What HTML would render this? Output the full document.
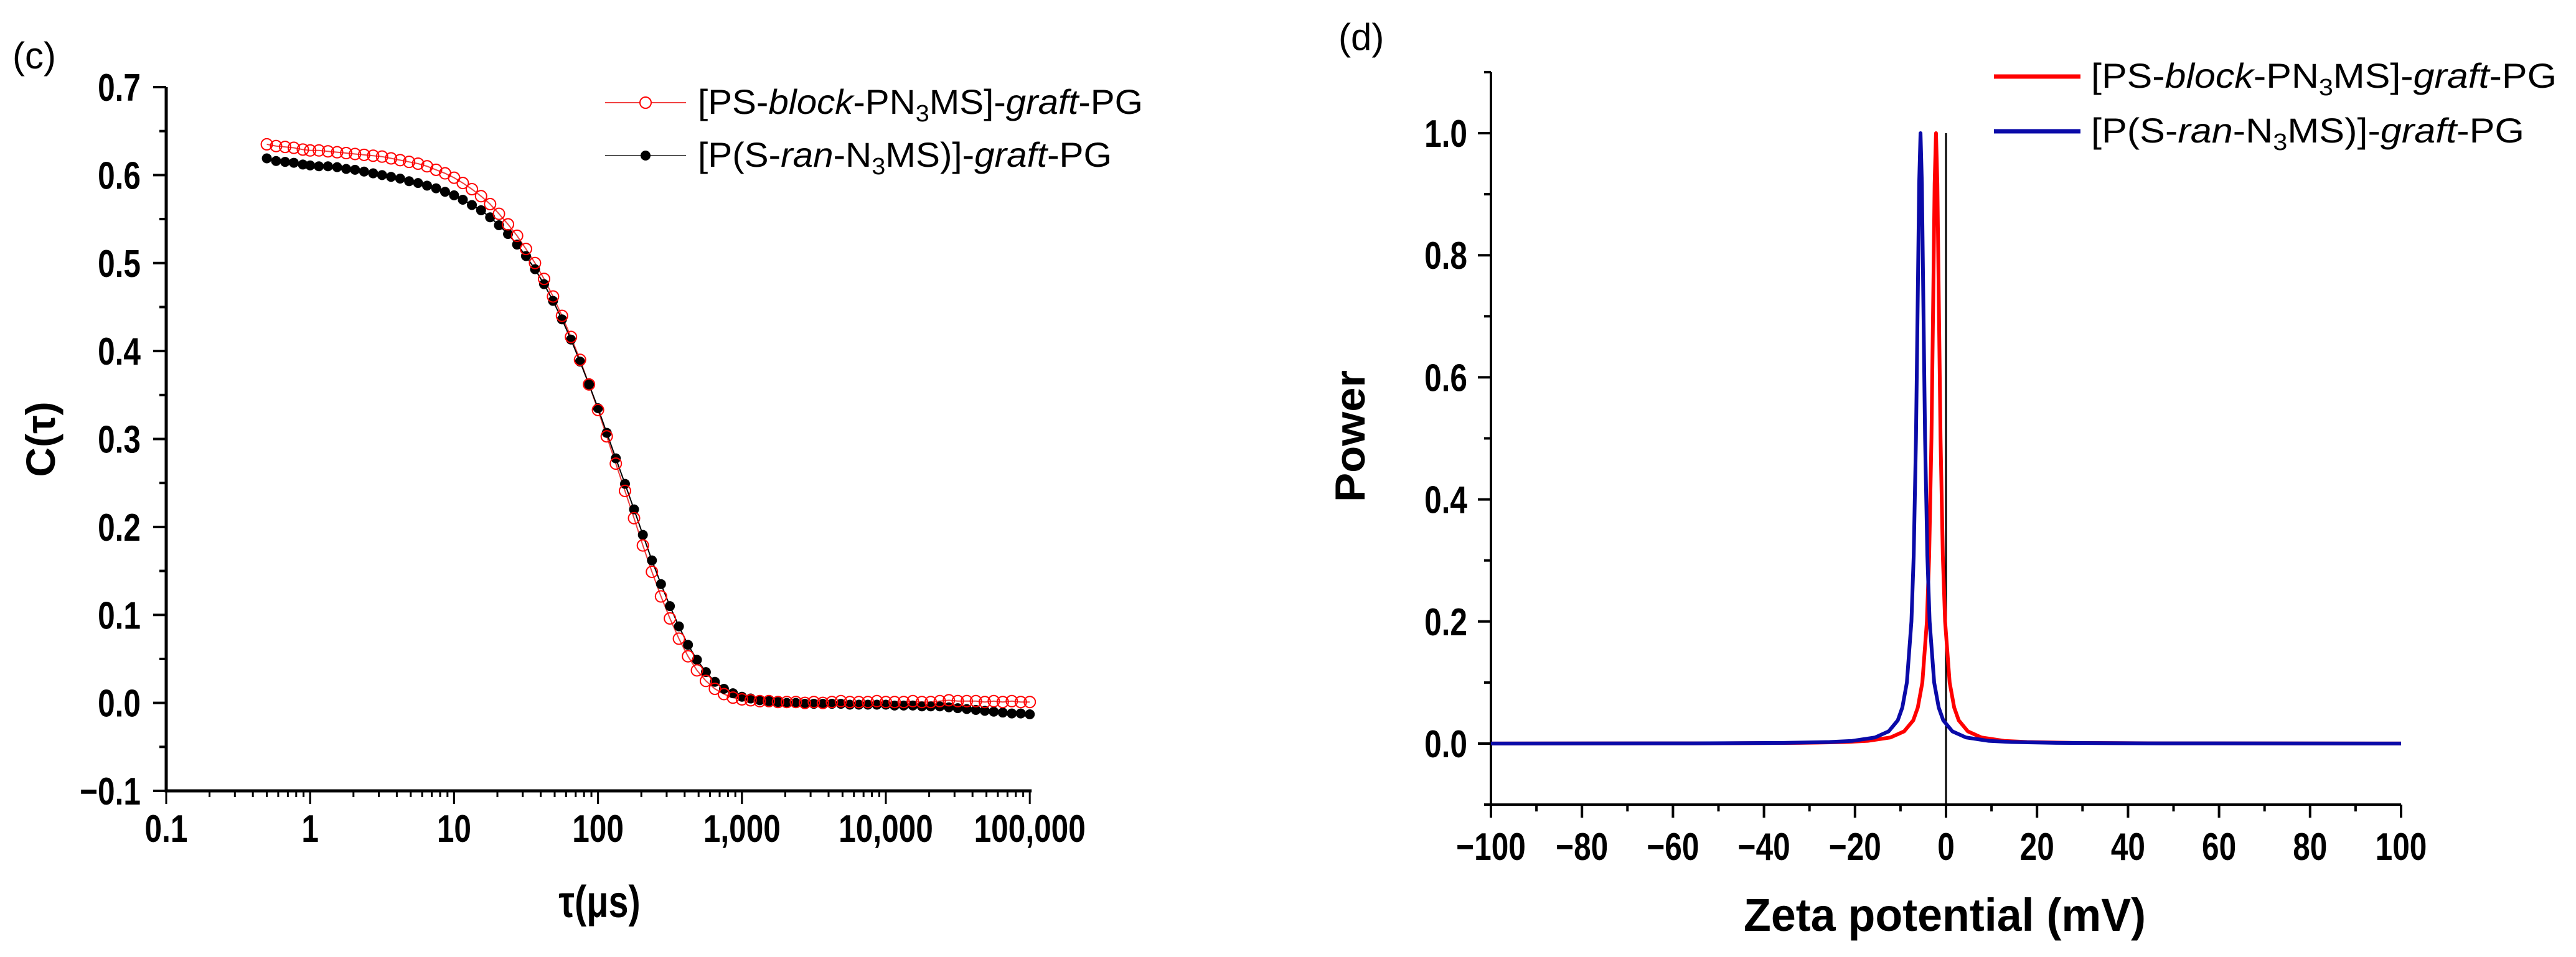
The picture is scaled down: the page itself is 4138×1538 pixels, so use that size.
<!DOCTYPE html>
<html><head><meta charset="utf-8"><style>
html,body{margin:0;padding:0;background:#fff;}
svg{display:block;font-family:"Liberation Sans",sans-serif;}
</style></head><body>
<svg id="fig" width="4138" height="1538" viewBox="0 0 4138 1538" xmlns="http://www.w3.org/2000/svg">
<g id="chartC"></g>
<g id="chartD"></g>
</svg>
<script>
// ---- Chart (c) data ----
const tauValues=[0.5,0.58,0.67,0.77,0.89,1,1.15,1.33,1.54,1.78,2.05,2.37,2.74,3.16,3.65,4.22,4.87,5.62,6.49,7.5,8.66,10,11.5,13.3,15.4,17.8,20.5,23.7,27.4,31.6,36.5,42.2,48.7,56.2,64.9,75,86.6,100,115,133,154,178,205,237,274,316,365,422,487,562,649,750,866,1000,1150,1330,1540,1780,2050,2370,2740,3160,3650,4220,4870,5620,6490,7500,8660,10000,11500,13300,15400,17800,20500,23700,27400,31600,36500,42200,48700,56200,64900,75000,86600,100000];
const blockCorr=[0.635,0.633,0.632,0.631,0.629,0.628,0.628,0.627,0.626,0.625,0.624,0.623,0.622,0.621,0.619,0.617,0.615,0.613,0.610,0.606,0.602,0.597,0.591,0.584,0.576,0.567,0.556,0.544,0.531,0.516,0.500,0.482,0.462,0.440,0.416,0.390,0.362,0.333,0.303,0.272,0.241,0.210,0.179,0.149,0.121,0.096,0.073,0.053,0.037,0.025,0.016,0.010,0.006,0.004,0.003,0.002,0.002,0.001,0.001,0.001,0.000,0.001,0.000,0.001,0.002,0.001,0.001,0.001,0.002,0.001,0.001,0.001,0.002,0.001,0.001,0.002,0.003,0.002,0.002,0.002,0.001,0.002,0.001,0.002,0.001,0.001];
const ranCorr=[0.619,0.616,0.615,0.614,0.612,0.611,0.610,0.610,0.609,0.607,0.606,0.604,0.602,0.600,0.598,0.596,0.593,0.591,0.588,0.585,0.581,0.577,0.572,0.566,0.560,0.552,0.543,0.533,0.521,0.508,0.493,0.476,0.457,0.436,0.413,0.388,0.362,0.335,0.307,0.278,0.249,0.220,0.191,0.162,0.135,0.110,0.087,0.066,0.049,0.035,0.024,0.016,0.011,0.007,0.005,0.003,0.002,0.001,0.000,0.000,-0.001,-0.001,-0.001,-0.001,-0.001,-0.002,-0.002,-0.002,-0.002,-0.002,-0.003,-0.003,-0.003,-0.004,-0.004,-0.004,-0.005,-0.006,-0.007,-0.008,-0.009,-0.010,-0.011,-0.012,-0.012,-0.013];
const cYTicks=[-0.1,0.0,0.1,0.2,0.3,0.4,0.5,0.6,0.7];
const cXTicks=[0.1,1,10,100,1000,10000,100000];
const cXTickLabels=["0.1","1","10","100","1,000","10,000","100,000"];
// ---- Chart (d) data ----
const blockZeta=[-100,-52.2,-32.2,-22.2,-17.2,-12.2,-9.2,-7.2,-6.2,-5.2,-4.2,-3.7,-3.2,-2.8,-2.5,-2.2,-1.9,-1.6,-1.2,-0.7,-0.2,0.8,1.8,2.8,4.8,7.8,12.8,17.8,27.8,47.8,100];
const ranZeta=[-100,-55.6,-35.6,-25.6,-20.6,-15.6,-12.6,-10.6,-9.6,-8.6,-7.6,-7.1,-6.6,-6.2,-5.9,-5.6,-5.3,-5.0,-4.6,-4.1,-3.6,-2.6,-1.6,-0.6,1.4,4.4,9.4,14.4,24.4,44.4,100];
const blockPower=[0.0001,0.0004,0.0011,0.0025,0.0044,0.01,0.02,0.038,0.059,0.1,0.2,0.308,0.5,0.735,0.917,1,0.917,0.735,0.5,0.308,0.2,0.1,0.059,0.038,0.02,0.01,0.0044,0.0025,0.0011,0.0004,0.0001];
const ranPower=[0.0001,0.0004,0.0011,0.0025,0.0044,0.01,0.02,0.038,0.059,0.1,0.2,0.308,0.5,0.735,0.917,1,0.917,0.735,0.5,0.308,0.2,0.1,0.059,0.038,0.02,0.01,0.0044,0.0025,0.0011,0.0004,0.0001];
const dXTicks=[-100,-80,-60,-40,-20,0,20,40,60,80,100];
const dXTickLabels=["\u2212100","\u221280","\u221260","\u221240","\u221220","0","20","40","60","80","100"];
const dYTicks=[0.0,0.2,0.4,0.6,0.8,1.0];

const NS="http://www.w3.org/2000/svg";
function mk(parent,tag,attrs,text){const e=document.createElementNS(NS,tag);for(const k in attrs)e.setAttribute(k,attrs[k]);if(text!==undefined)e.textContent=text;parent.appendChild(e);return e;}

// ===== Chart C =====
const gc=document.getElementById('chartC');
const cx0=267,cxDec=231.2,cyTop=140,cyPer=1413.75;
const cX=v=>cx0+(Math.log10(v)+1)*cxDec;
const cY=v=>cyTop+(0.7-v)*cyPer;
let ax=mk(gc,'path',{d:`M${cX(0.1)},${cY(0.7)} V${cY(-0.1)} H${cX(100000)+3}`,fill:'none',stroke:'#000','stroke-width':5});

for(let v=-0.1;v<=0.7001;v+=0.05){const maj=Math.abs(Math.round(v*10)-v*10)<0.01;
 const t=mk(gc,'line',{x1:cx0,x2:cx0-(maj?21:11),y1:cY(v),y2:cY(v),stroke:'#000','stroke-width':4});
 }
cYTicks.forEach(v=>{const t=mk(gc,'text',{transform:`translate(226,${cY(v)+22}) scale(0.8,1)`,'text-anchor':'end','font-size':62,'font-weight':'bold'},(v<0?'\u2212':'')+Math.abs(v).toFixed(1));
 });
for(let d=-1;d<5;d++){for(let m=1;m<=10;m++){const v=m*Math.pow(10,d);const maj=(m===1||m===10);
 const t=mk(gc,'line',{x1:cX(v),x2:cX(v),y1:cY(-0.1),y2:cY(-0.1)+(maj?21:10),stroke:'#000','stroke-width':3});
 }}
cXTicks.forEach((v,i)=>{const t=mk(gc,'text',{transform:`translate(${cX(v)},1353) scale(0.8,1)`,'text-anchor':'middle','font-size':62,'font-weight':'bold'},cXTickLabels[i]);
 });
let tt=mk(gc,'text',{transform:'translate(963,1474) scale(0.8,1)','text-anchor':'middle','font-size':72,'font-weight':'bold'},'\u03c4(\u03bcs)');

tt=mk(gc,'text',{transform:'translate(88,706) rotate(-90)','text-anchor':'middle','font-size':66,'font-weight':'bold'},'C(\u03c4)');

tt=mk(gc,'text',{x:20,y:110,'font-size':60},'(c)');

let pl=mk(gc,'polyline',{points:tauValues.map((t,i)=>cX(t)+','+cY(blockCorr[i])).join(' '),fill:'none',stroke:'#f04040','stroke-width':2});

pl=mk(gc,'polyline',{points:tauValues.map((t,i)=>cX(t)+','+cY(ranCorr[i])).join(' '),fill:'none',stroke:'#000','stroke-width':2});

tauValues.forEach((t,i)=>{const c=mk(gc,'circle',{cx:cX(t),cy:cY(ranCorr[i]),r:8,fill:'#000'});
 });
tauValues.forEach((t,i)=>{const c=mk(gc,'circle',{cx:cX(t),cy:cY(blockCorr[i]),r:9,fill:'none',stroke:'#ff0000','stroke-width':2});
 });
let lg=mk(gc,'g',{});
mk(lg,'line',{x1:972,x2:1102,y1:165,y2:165,stroke:'#f04040','stroke-width':2});
mk(lg,'circle',{cx:1037,cy:165,r:9,fill:'#fff',stroke:'#ff0000','stroke-width':2});
mk(lg,'line',{x1:972,x2:1102,y1:250,y2:250,stroke:'#555','stroke-width':2});
mk(lg,'circle',{cx:1037,cy:250,r:8,fill:'#000'});
let lt=mk(lg,'text',{x:1121,y:183,'font-size':56,textLength:715,lengthAdjust:'spacingAndGlyphs'});
lt.innerHTML='[PS-<tspan font-style="italic">block</tspan>-PN<tspan font-size="38" dy="12">3</tspan><tspan dy="-12">MS]-</tspan><tspan font-style="italic">graft</tspan>-PG';

lt=mk(lg,'text',{x:1121,y:268,'font-size':56,textLength:665,lengthAdjust:'spacingAndGlyphs'});
lt.innerHTML='[P(S-<tspan font-style="italic">ran</tspan>-N<tspan font-size="38" dy="12">3</tspan><tspan dy="-12">MS)]-</tspan><tspan font-style="italic">graft</tspan>-PG';


// ===== Chart D =====
const gd=document.getElementById('chartD');
const dx0=2395,dx1=3857,dy0=1195,dy1=214;
const dX=v=>dx0+(v+100)/200*(dx1-dx0);
const dY=v=>dy0-v*(dy0-dy1);
ax=mk(gd,'path',{d:`M${dX(-100)},${dY(1.1)} V${dY(-0.1)} H${dX(100)}`,fill:'none',stroke:'#000','stroke-width':4});

for(let v=-0.1;v<=1.1001;v+=0.1){const maj=Math.abs(Math.round(v*5)-v*5)<0.01;
 const t=mk(gd,'line',{x1:dx0,x2:dx0-(maj?21:11),y1:dY(v),y2:dY(v),stroke:'#000','stroke-width':4});
 }
dYTicks.forEach(v=>{const t=mk(gd,'text',{transform:`translate(2357,${dY(v)+22}) scale(0.8,1)`,'text-anchor':'end','font-size':62,'font-weight':'bold'},v.toFixed(1));
 });
for(let v=-100;v<=100;v+=10){const maj=v%20===0;
 const t=mk(gd,'line',{x1:dX(v),x2:dX(v),y1:dY(-0.1),y2:dY(-0.1)+(maj?21:11),stroke:'#000','stroke-width':4});
 }
dXTicks.forEach((v,i)=>{const t=mk(gd,'text',{transform:`translate(${dX(v)},1382) scale(0.8,1)`,'text-anchor':'middle','font-size':62,'font-weight':'bold'},dXTickLabels[i]);
 });
tt=mk(gd,'text',{x:3124,y:1496,'text-anchor':'middle','font-size':74,'font-weight':'bold',textLength:646,lengthAdjust:'spacingAndGlyphs'},'Zeta potential (mV)');

tt=mk(gd,'text',{transform:'translate(2192,701) rotate(-90)','text-anchor':'middle','font-size':68,'font-weight':'bold',textLength:212,lengthAdjust:'spacingAndGlyphs'},'Power');

tt=mk(gd,'text',{x:2150,y:80,'font-size':60},'(d)');

let zl=mk(gd,'line',{x1:dX(0),x2:dX(0),y1:dY(1.0),y2:dY(-0.1),stroke:'#000','stroke-width':3});

pl=mk(gd,'polyline',{points:blockZeta.map((z,i)=>dX(z)+','+dY(blockPower[i])).join(' '),fill:'none',stroke:'#ff0000','stroke-width':6,'stroke-linejoin':'round'});

pl=mk(gd,'polyline',{points:ranZeta.map((z,i)=>dX(z)+','+dY(ranPower[i])).join(' '),fill:'none',stroke:'#0a0aa8','stroke-width':6,'stroke-linejoin':'round'});

lg=mk(gd,'g',{});
mk(lg,'line',{x1:3203,x2:3342,y1:123,y2:123,stroke:'#ff0000','stroke-width':7});
mk(lg,'line',{x1:3203,x2:3342,y1:211,y2:211,stroke:'#0a0aa8','stroke-width':7});
lt=mk(lg,'text',{x:3359,y:141,'font-size':56,textLength:748,lengthAdjust:'spacingAndGlyphs'});
lt.innerHTML='[PS-<tspan font-style="italic">block</tspan>-PN<tspan font-size="38" dy="12">3</tspan><tspan dy="-12">MS]-</tspan><tspan font-style="italic">graft</tspan>-PG';

lt=mk(lg,'text',{x:3359,y:229,'font-size':56,textLength:696,lengthAdjust:'spacingAndGlyphs'});
lt.innerHTML='[P(S-<tspan font-style="italic">ran</tspan>-N<tspan font-size="38" dy="12">3</tspan><tspan dy="-12">MS)]-</tspan><tspan font-style="italic">graft</tspan>-PG';

</script>
</body></html>
